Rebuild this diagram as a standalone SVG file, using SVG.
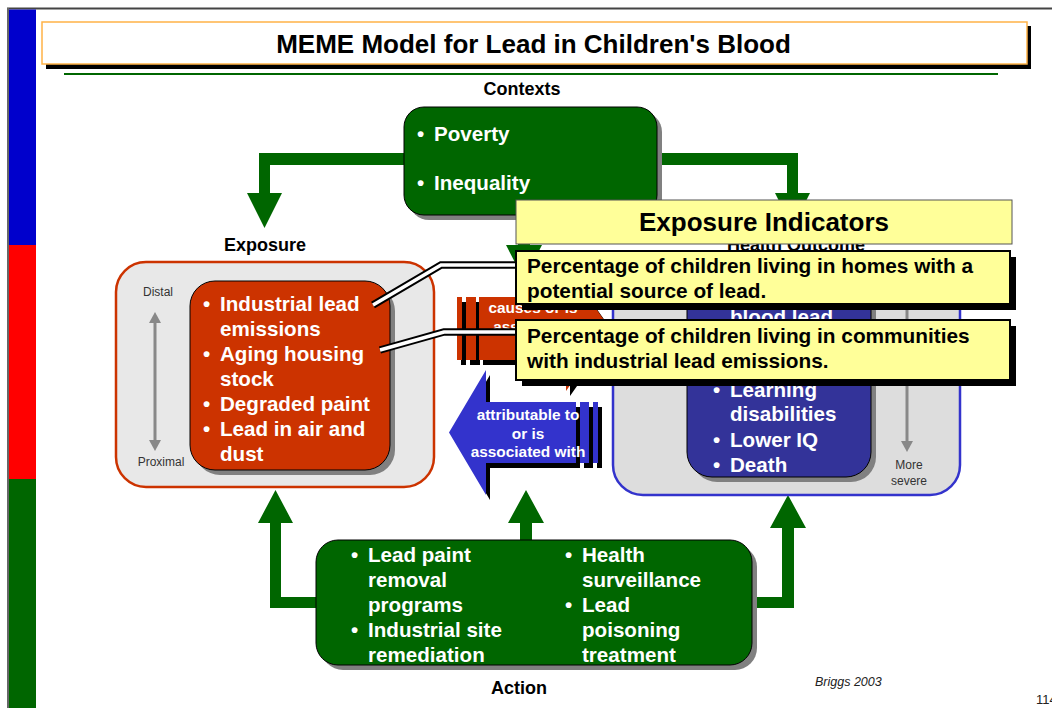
<svg xmlns="http://www.w3.org/2000/svg" width="1052" height="708" viewBox="0 0 1052 708">
<style>
.b{font-family:"Liberation Sans",Arial,sans-serif;font-weight:bold}
.r{font-family:"Liberation Sans",Arial,sans-serif}
.wt{fill:#fff;font-size:20.6px}
.lab{fill:#000;font-size:18px}
.ind{fill:#000;font-size:20.8px}
.sm{fill:#333;font-size:12px}
.ar{fill:#fff;font-size:15.4px}
.grn{fill:#006600}
.shd{fill:#808080}
</style>
<rect width="1052" height="708" fill="#fff"/>
<g id="frame">
<rect x="7" y="7.5" width="1045" height="2" fill="#444"/>
<rect x="7" y="8" width="2" height="700" fill="#666"/>
<rect x="9" y="9.5" width="27" height="235.5" fill="#0000CC"/>
<rect x="9" y="245" width="27" height="234" fill="#FF0000"/>
<rect x="9" y="479" width="27" height="229" fill="#006600"/>
</g>
<g id="title">
<rect x="46" y="26" width="985" height="43" fill="#000"/>
<rect x="42" y="22" width="985" height="42" fill="#fff" stroke="#FFB347" stroke-width="1.5"/>
<text x="533.5" y="53" class="b" font-size="26" text-anchor="middle">MEME Model for Lead in Children's Blood</text>
<rect x="64" y="73" width="934" height="2" fill="#006600"/>
</g>
<g id="connectors">
<polygon class="grn" points="404,153 259,153 259,193 247,193 264.5,228 282,193 270,193 270,165 404,165"/>
<polygon class="grn" points="657,153 798,153 798,193 810,193 792.5,228 775,193 787,193 787,165 657,165"/>
<polygon class="grn" points="518,215 530,215 530,245 542,245 524,280 506,245 518,245"/>
<polygon class="grn" points="316,608 270,608 270,523 258,523 275.5,490 293,523 281,523 281,597 316,597"/>
<polygon class="grn" points="752,597 782,597 782,528 770,528 788,495 806,528 794,528 794,608 752,608"/>
<polygon class="grn" points="520,540 520,523 508,523 526,490 544,523 532,523 532,540"/>
</g>
<g id="contexts">
<text x="522" y="94.5" class="b lab" text-anchor="middle">Contexts</text>
<rect x="409" y="112" width="253" height="108" rx="20" class="shd"/>
<rect x="404" y="107" width="253" height="108" rx="20" fill="#006600" stroke="#000" stroke-width="1"/>
<text class="b wt"><tspan x="417" y="141">•</tspan><tspan x="434" y="141">Poverty</tspan><tspan x="417" y="190">•</tspan><tspan x="434" y="190">Inequality</tspan></text>
</g>
<g id="exposure">
<text x="265" y="250.5" class="b lab" text-anchor="middle">Exposure</text>
<rect x="116" y="262" width="318" height="225" rx="30" fill="#E8E8E8" stroke="#CC3300" stroke-width="2.5"/>
<rect x="195" y="286" width="200" height="189" rx="25" class="shd"/>
<rect x="190" y="281" width="200" height="189" rx="25" fill="#CC3300" stroke="#000" stroke-width="1"/>
<text class="b wt">
<tspan x="203" y="311">•</tspan><tspan x="220" y="311">Industrial lead</tspan>
<tspan x="220" y="336">emissions</tspan>
<tspan x="203" y="361">•</tspan><tspan x="220" y="361">Aging housing</tspan>
<tspan x="220" y="386">stock</tspan>
<tspan x="203" y="411">•</tspan><tspan x="220" y="411">Degraded paint</tspan>
<tspan x="203" y="436">•</tspan><tspan x="220" y="436">Lead in air and</tspan>
<tspan x="220" y="461">dust</tspan>
</text>
<text x="158" y="296" class="r sm" text-anchor="middle">Distal</text>
<text x="161" y="466" class="r sm" text-anchor="middle">Proximal</text>
<line x1="155" y1="320" x2="155" y2="443" stroke="#888" stroke-width="3"/>
<polygon points="155,312 149,323 161,323" fill="#888"/>
<polygon points="155,451 149,440 161,440" fill="#888"/>
</g>
<g id="health">
<text x="796" y="250.5" class="b lab" text-anchor="middle">Health Outcome</text>
<rect x="613" y="262" width="347" height="233" rx="30" fill="#DDDDDD" stroke="#3333CC" stroke-width="2.5"/>
<rect x="692" y="286" width="184" height="196" rx="25" class="shd"/>
<rect x="687" y="281" width="184" height="196" rx="25" fill="#333399" stroke="#000" stroke-width="1"/>
<text class="b wt">
<tspan x="730" y="324">blood lead</tspan>
<tspan x="713" y="397">•</tspan><tspan x="730" y="397">Learning</tspan>
<tspan x="730" y="421">disabilities</tspan>
<tspan x="713" y="447">•</tspan><tspan x="730" y="447">Lower IQ</tspan>
<tspan x="713" y="472">•</tspan><tspan x="730" y="472">Death</tspan>
</text>
<line x1="907" y1="300" x2="907" y2="444" stroke="#888" stroke-width="3"/>
<polygon points="907,452 901,441 913,441" fill="#888"/>
<text x="909" y="469" class="r sm" text-anchor="middle">More</text>
<text x="909" y="485" class="r sm" text-anchor="middle">severe</text>
</g>
<g id="causes-arrow">
<g transform="translate(4,5)" fill="#000">
<rect x="457" y="297" width="5" height="63"/>
<rect x="466" y="297" width="10" height="63"/>
<polygon points="479,297 566,297 566,266 610,328.5 566,391 566,360 479,360"/>
</g>
<g fill="#CC3300">
<rect x="457" y="297" width="5" height="63"/>
<rect x="466" y="297" width="10" height="63"/>
<polygon points="479,297 566,297 566,266 610,328.5 566,391 566,360 479,360"/>
</g>
<text class="b ar" text-anchor="middle"><tspan x="533" y="313">causes or is</tspan><tspan x="533" y="331.5">associated</tspan></text>
</g>
<g id="attributable-arrow">
<g transform="translate(4,5)" fill="#000">
<polygon points="449,432.5 486,370 486,402 576,402 576,463 486,463 486,495"/>
<rect x="580" y="402" width="9" height="61"/>
<rect x="593" y="402" width="5" height="61"/>
</g>
<g fill="#3333CC">
<polygon points="449,432.5 486,370 486,402 576,402 576,463 486,463 486,495"/>
<rect x="580" y="402" width="9" height="61"/>
<rect x="593" y="402" width="5" height="61"/>
</g>
<text class="b ar" text-anchor="middle"><tspan x="528" y="420">attributable to</tspan><tspan x="528" y="438.5">or is</tspan><tspan x="528" y="457">associated with</tspan></text>
</g>
<g id="action">
<rect x="321" y="545" width="436" height="125" rx="22" class="shd"/>
<rect x="316" y="540" width="436" height="125" rx="22" fill="#006600" stroke="#000" stroke-width="1"/>
<text class="b wt">
<tspan x="351" y="562">•</tspan><tspan x="368" y="562">Lead paint</tspan>
<tspan x="368" y="587">removal</tspan>
<tspan x="368" y="612">programs</tspan>
<tspan x="351" y="637">•</tspan><tspan x="368" y="637">Industrial site</tspan>
<tspan x="368" y="662">remediation</tspan>
<tspan x="565" y="562">•</tspan><tspan x="582" y="562">Health</tspan>
<tspan x="582" y="587">surveillance</tspan>
<tspan x="565" y="612">•</tspan><tspan x="582" y="612">Lead</tspan>
<tspan x="582" y="637">poisoning</tspan>
<tspan x="582" y="662">treatment</tspan>
</text>
<text x="519" y="693.5" class="b lab" text-anchor="middle">Action</text>
</g>
<g id="callout-lines" fill="none">
<path d="M373,305 L441,265 L516,265" stroke="#000" stroke-width="7.5"/>
<path d="M373,305 L441,265 L516,265" stroke="#fff" stroke-width="3.5"/>
<path d="M380,350 L444,332 L516,332" stroke="#000" stroke-width="7.5"/>
<path d="M380,350 L444,332 L516,332" stroke="#fff" stroke-width="3.5"/>
</g>
<g id="indicators">
<rect x="516" y="200" width="496" height="44" fill="#FFFF99" stroke="#555" stroke-width="1"/>
<text x="764" y="231" class="b" font-size="26" text-anchor="middle">Exposure Indicators</text>
</g>
<g id="indicator-1">
<rect x="522" y="257" width="494" height="53" fill="#000"/>
<rect x="516" y="251" width="494" height="53" fill="#FFFF99" stroke="#000" stroke-width="2"/>
<text class="b ind"><tspan x="527" y="273">Percentage of children living in homes with a</tspan><tspan x="527" y="298">potential source of lead.</tspan></text>
</g>
<g id="indicator-2">
<rect x="522" y="326" width="494" height="60" fill="#000"/>
<rect x="516" y="320" width="494" height="60" fill="#FFFF99" stroke="#000" stroke-width="2"/>
<text class="b ind"><tspan x="527" y="343">Percentage of children living in communities</tspan><tspan x="527" y="368">with industrial lead emissions.</tspan></text>
</g>
<g id="footer">
<text x="815" y="686" class="r" font-size="12.5" font-style="italic" fill="#222">Briggs 2003</text>
<text x="1036" y="704" class="r" font-size="13" fill="#222">114</text>
</g>
</svg>
